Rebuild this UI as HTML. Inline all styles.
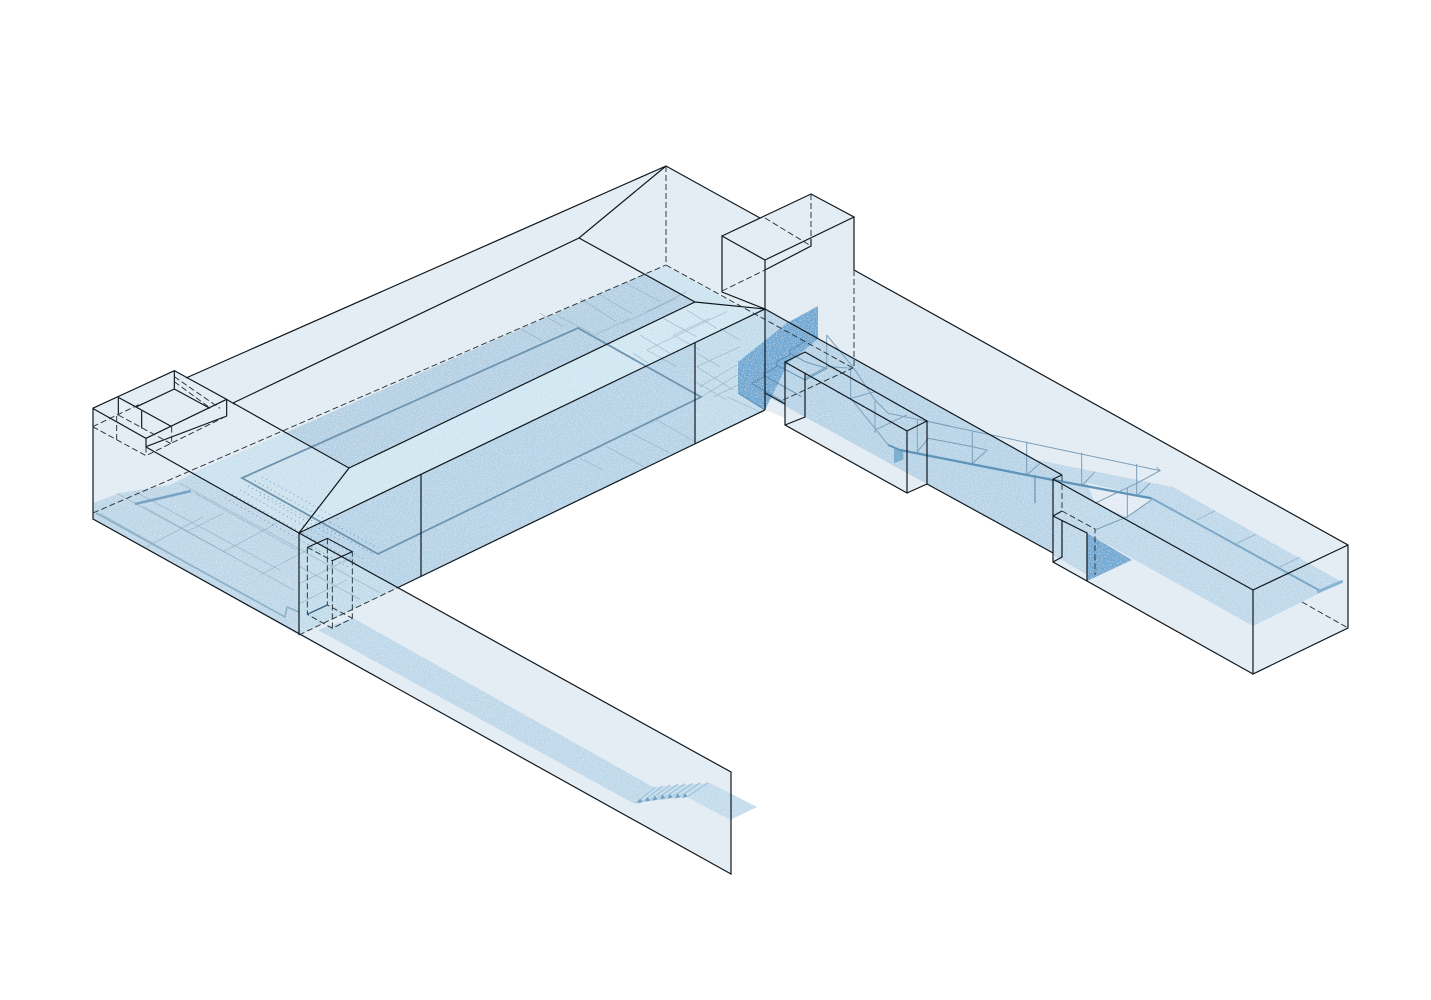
<!DOCTYPE html>
<html><head><meta charset="utf-8"><style>html,body{margin:0;padding:0;background:#fff}svg{display:block}</style></head><body>
<svg width="1431" height="1000" viewBox="0 0 1431 1000" xmlns="http://www.w3.org/2000/svg">
<defs>
<filter id="n" x="0" y="0" width="100%" height="100%"><feTurbulence type="fractalNoise" baseFrequency="0.85" numOctaves="2" seed="4" result="t"/><feColorMatrix in="t" type="matrix" values="0 0 0 0 1  0 0 0 0 1  0 0 0 0 1  1.3 0 0 0 -0.6" result="w"/><feComposite in="w" in2="SourceAlpha" operator="in" result="s"/><feMerge><feMergeNode in="SourceGraphic"/><feMergeNode in="s"/></feMerge></filter>
</defs>
<rect width="1431" height="1000" fill="#fff"/>
<!-- silhouette -->
<polygon fill="#e4ecf4" points="93,408 175,371 186,378 666,166 760,219 811,194 854,217 854,270 1348,545 1348,628 1253,674 1053,562 1053,553 927,484 907,493 785,425 785,418 765,410 397,588 731,772 731,874 299,635 93,519"/>
<g filter="url(#n)">
<!-- main floor -->
<polygon fill="#bcd6e8" points="93,503 120,493 170,485 193,473 287,432 349,468 299,533 299,635 93,519"/>
<polygon fill="#c9e1ee" points="193,473 287,432 349,468 299,533 225,492"/>
<polygon fill="#b2cfe3" points="287,432 645,274 695,302 349,468"/>
<polygon fill="#cbe3f0" points="645,274 666,265 765,322 765,309 695,302"/>
<polygon fill="#cfe6f2" points="349,468 695,302 765,309 299,533"/>
<polygon fill="#b4d2e6" points="299,533 695,343 695,444 397,588"/>
<polygon fill="#c0dbeb" points="695,343 765,309 765,410 695,444"/>
<polygon fill="#c0dbea" points="299,533 397,588 299,635"/>
<!-- left wing ribbon -->
<polygon fill="#bcd7e9" points="318,630 353,618 653,787 633,803"/>
<polygon fill="#c1dbeb" points="653,787 710,783 757,807 730,820 687,797 633,803"/>
<!-- right strip -->
<polygon fill="#b5d2e6" points="765,309 1062,475 1053,479 1053,553 927,484 805,417 765,395"/>
<!-- right floor -->
<polygon fill="#bcd7e9" points="1030,456 1037,460 1173,487 1342,582 1253,626 1087,533 1053,516 1053,479 1062,475"/>
<polygon fill="#e2ebf4" points="1087,483 1152,498 1127,517 1095,503"/>
<polygon fill="#bcd7e9" points="1053,516 1087,533 1087,575 1062,560 1053,555"/>
<!-- deep blue -->
<polygon fill="#6ba5d1" points="738,362 787,323 818,306 818,339 788,363 765,410 765,410 738,393"/>
<polygon fill="#6ba5d1" points="1087,533 1132,560 1087,581"/>
</g>
<!-- tiles main right (zoom coords) -->
<g transform="translate(500,250) scale(.33333)" fill="none" stroke="#8ba5b8" stroke-width="2" opacity=".7">
<path d="M380,100 L480,155 M300,135 L395,190 M240,145 L350,215 M170,195 L285,255 M120,190 L190,230 M60,235 L130,275"/>
<path d="M530,145 L365,222 M560,125 L440,185 M285,255 L390,205"/>
<path d="M490,205 L590,260 M630,205 L520,255 M680,185 L440,300 M420,255 L510,310 M400,310 L445,340 M560,180 L650,235 M520,255 L600,300 M440,300 L530,350"/>
<path d="M590,310 L660,350 M720,290 L590,350 M710,345 L600,410 M590,350 L700,420 M605,440 L720,370 M640,440 L800,365 M585,395 L680,450 M680,440 L790,490 M660,235 L720,270"/>
<path d="M470,510 L585,575 M320,590 L440,655 M395,550 L510,610 M240,625 L310,660"/>
</g>
<!-- tiles left (round-1 zoom coords) -->
<g transform="translate(80,350) scale(.33333)" fill="none" stroke="#8ba5b8" stroke-width="2" opacity=".75">
<path d="M110,430 L550,670 M165,425 L600,660 M190,470 L640,720 M60,490 L500,740 M345,430 L650,600 M300,400 L700,620"/>
<path d="M320,545 L430,490 M430,605 L590,520 M540,675 L700,590 M660,700 L820,620 M660,760 L800,690 M200,590 L370,500"/>
<path d="M700,620 L900,728 M660,650 L840,748"/>
</g>
<!-- pool outline -->
<polygon points="242,478 578,328 701,397 378,554" fill="none" stroke="#6f94b0" stroke-width="1.8"/>
<path d="M135,504 L191,491" stroke="#7aa3c2" stroke-width="2.5" fill="none"/>
<path d="M96,513 L285,617 L287,607 L299,612" stroke="#8eb2ca" stroke-width="1.7" fill="none"/>
<!-- stipple -->
<g fill="none" stroke="#5f7f97" stroke-width="1" stroke-dasharray="1 3.5" opacity=".75">
<path d="M225,498 L350,568 M232,494 L358,564 M240,490 L365,560 M248,486 L372,553 M255,481 L378,548 M262,477 L340,520 M260,495 L340,540"/>
</g>
<!-- stairs (zoom coords) -->
<g transform="translate(600,750) scale(.33333)" fill="none" stroke="#9cbfd6" stroke-width="3">
<path d="M105,160 L165,112 M128,155 L188,108 M150,150 L210,105 M173,145 L233,103 M195,142 L255,101 M218,140 L278,100 M240,140 L300,98 M262,140 L325,98"/>
</g>
<g transform="translate(600,750) scale(.33333)" fill="#6f9fc2"><polygon points="112,160 120,146 128,156"/><polygon points="135,155 143,141 151,152"/><polygon points="157,152 165,138 173,148"/><polygon points="180,148 188,134 196,145"/><polygon points="202,146 210,132 218,142"/><polygon points="225,145 233,130 241,141"/><polygon points="247,144 255,130 262,140"/></g>
<!-- tower steps + rails (zoom coords 730,300) -->
<g transform="translate(730,300) scale(.33333)" fill="none">
<g stroke="#4f86ae" stroke-width="3" opacity=".8">
<path d="M25,280 L105,330 M65,250 L160,305 M65,250 L100,232 V222 L140,200 V185 L180,165 V150 L225,125 M100,225 L215,290 M140,195 L225,240 M180,160 L225,185 L290,205 L225,240"/>
</g>
<polygon fill="#7eaed0" points="492,445 520,455 520,478 492,490"/>
<g stroke="#7fa3bd" stroke-width="3">
<path d="M290,105 V200 L225,235 M290,105 L372,205 L435,300 L475,340 L660,378 M362,205 V295 M435,300 V398 M362,295 L475,435 M362,295 L435,275 M435,390 L530,345 M372,205 L290,200 M562,360 V460"/>
</g>
<path d="M475,435 L510,450" stroke="#5f94b9" stroke-width="6"/>
</g>
<!-- ramp (zoom coords 900,400) -->
<g transform="translate(900,400) scale(.33333)" fill="none">
<g stroke="#7b9fb9" stroke-width="3">
<path d="M85,65 L780,212 L710,250 L585,310 M780,212 L770,202"/>
<path d="M217,95 V190 M380,125 V225 M545,158 V258 M710,192 V288 M682,265 V355"/>
<path d="M52,155 L85,115 L217,140 L260,150 M217,190 L262,150 M380,225 L420,190 M545,258 L585,215 M710,288 L750,250 M585,390 L682,350 L755,300"/>
<path d="M890,360 L945,333 M1010,430 L1068,403 M1140,500 L1200,472" stroke="#8ba5b8" stroke-width="2"/>
</g>
<path d="M405,225 V310" stroke="#7fa6c2" stroke-width="5"/>
<path d="M0,150 L380,225 L755,295" stroke="#5f94b9" stroke-width="7"/>
<path d="M755,295 L1265,575" stroke="#7fa8c6" stroke-width="6"/>
<path d="M1255,575 L1325,545" stroke="#85b4d6" stroke-width="9" stroke-linecap="round"/>
</g>
<!-- solid lines -->
<g fill="none" stroke="#10181e" stroke-width="1.2">
<path d="M186,378 L666,166 L760,218"/>
<path d="M233,403 L579,238 L666,166"/>
<path d="M579,238 L695,302 L765,309"/>
<path d="M233,403 L349,468 L299,533"/>
<path d="M349,468 L695,302"/>
<path d="M299,533 L765,309"/>
<path d="M397,588 L765,410"/>
<path d="M421,474 V577 M695,343 V444"/>
<path d="M146,447 L299,533 L731,772 V874 L93,519 V408"/>
<path d="M299,533 V635"/>
<!-- small box -->
<g transform="translate(90,365) scale(.33333)" stroke-width="3.5">
<path d="M8,130 L253,17 L410,103 V153 L168,245 V220 L8,130"/>
<path d="M168,220 L410,103 M85,97 L245,185 M85,97 V150 M155,138 V190 M253,17 V72 L140,125 M253,72 L360,130 M410,103 L435,118"/>
</g>
<!-- tower -->
<path d="M722,236 L811,194 L854,217 L765,260 L722,236 V292 L765,309"/>
<path d="M765,260 V410 M854,217 V270 M811,239 V246 L765,270"/>
<path d="M765,309 L1062,475"/>
<path d="M854,270 L1348,545 V628 L1253,674 V590 L1348,545"/>
<path d="M1053,479 L1253,590 M1053,479 L1062,475 M1053,479 V562 L1253,674"/>
<path d="M1053,516 L1087,533 V581 M1053,516 L1062,511 M1062,520 V557 L1053,562"/>
<path d="M927,484 L1053,553"/>
<!-- bridge box -->
<path d="M785,362 L805,352 L927,421 L907,431 L785,362 V425 L907,493 V431 M927,421 V484 L907,493 M785,425 L805,417 V373"/>
<path d="M765,393 L785,404"/>
</g>
<!-- dashed -->
<g fill="none" stroke="#2a353b" stroke-width=".95" stroke-dasharray="6 3">
<path d="M93,513 L666,265"/>
<path d="M666,166 V265 L853,368"/>
<path d="M854,270 V368"/>
<path d="M722,291 L765,270 M765,218 L811,246 M811,194 V239"/>
<path d="M783,400 L853,368"/>
<path d="M1062,475 V511 L1095,529 V575"/>
<path d="M1302,602 L1348,628"/>
<path d="M299,635 L397,588"/>
<g transform="translate(90,365) scale(.33333)" stroke-width="2.9" stroke-dasharray="18 9">
<path d="M8,185 L168,272 L410,153 M8,185 L155,115 M80,225 V150 M85,150 L245,237 M245,185 V237 M168,245 V272 M253,35 L390,130 M253,50 L355,125"/>
</g>
<g transform="translate(295,530) scale(.33333)" stroke-width="2.9" stroke-dasharray="18 9">
<path d="M37,52 L112,92 V295 M37,52 V253 L112,295 L172,265 V65 M97,25 V225 L172,265"/>
</g>
</g>
<g transform="translate(295,530) scale(.33333)" fill="none" stroke="#10181e" stroke-width="3.2">
<path d="M37,52 L97,25 L172,65 L112,92"/>
<path d="M37,253 L97,225" stroke="#33607f" stroke-width="4"/>
</g>
</svg>
</body></html>
